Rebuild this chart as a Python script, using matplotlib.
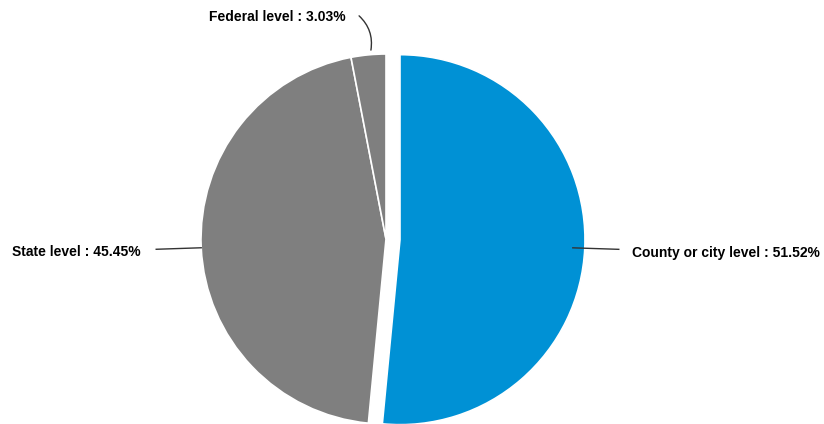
import numpy as np
import matplotlib
matplotlib.use("Agg")
import matplotlib.pyplot as plt

# share of responses by government level
labels = ["County or city level", "State level", "Federal level"]
shares = [51.52, 45.45, 3.03]
colors = ["#0091D5", "#7F7F7F", "#7F7F7F"]

W, H = 824, 424
fig = plt.figure(figsize=(W / 100, H / 100), dpi=100)
ax = fig.add_axes([0, 0, 1, 1])

center = (386, 185)
radius = 185
# explode offsets are in data units here (pixels)
wedges, _ = ax.pie(
    shares,
    colors=colors,
    startangle=90,
    counterclock=False,
    explode=[14, 0, 0],
    center=center,
    radius=radius,
    wedgeprops=dict(edgecolor="white", linewidth=1.2),
    frame=True,
)
ax.set_xlim(0, W)
ax.set_ylim(0, H)
ax.set_aspect("equal")
ax.axis("off")


def edge_point(w):
    # point on the unexploded rim at the wedge's mid angle
    ang = np.deg2rad((w.theta1 + w.theta2) / 2)
    return center[0] + radius * np.cos(ang), center[1] + radius * np.sin(ang)


font = dict(family="Liberation Sans", weight="bold", size=10, color="black")
line = dict(color="#333333", lw=1.0)

# County or city
x0, y0 = edge_point(wedges[0])
ax.plot([x0 + 2, x0 + 48], [y0, y0 - 1.5], **line)
ax.text(632, H - 253, f"{labels[0]} : {shares[0]:.2f}%", ha="left", va="center", **font)

# State
x0, y0 = edge_point(wedges[1])
ax.plot([x0, x0 - 45], [y0, y0 - 1.5], **line)
ax.text(141, H - 252, f"{labels[1]} : {shares[1]:.2f}%", ha="right", va="center", **font)

# Federal
x0, y0 = edge_point(wedges[2])
ax.annotate("", xy=(x0 + 2, y0 + 2), xytext=(357, H - 14),
            arrowprops=dict(arrowstyle="-", color="#333333", lw=1.0,
                            connectionstyle="arc3,rad=-0.3"))
ax.text(346, H - 17, f"{labels[2]} : {shares[2]:.2f}%", ha="right", va="center", **font)

fig.savefig("out.png", dpi=100)
